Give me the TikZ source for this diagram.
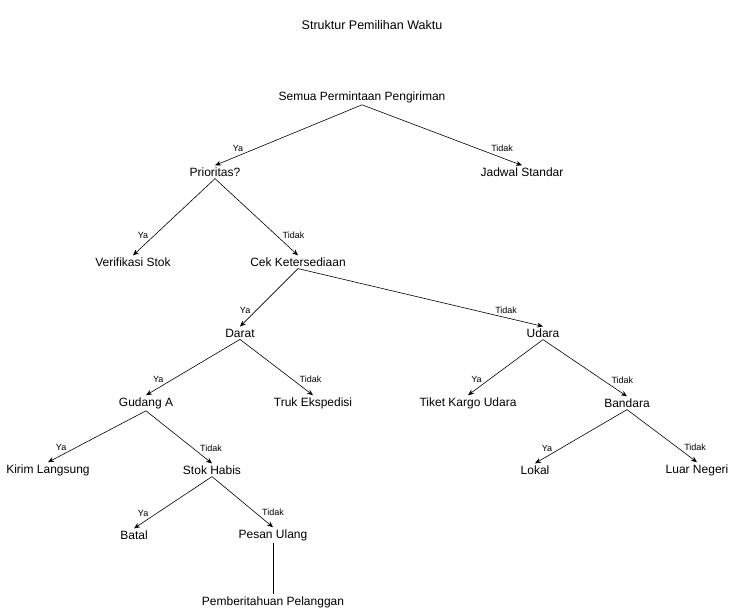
\documentclass[tikz,border=0pt]{standalone}
\usepackage{fontspec}
\setmainfont{Liberation Sans}
\usetikzlibrary{arrows.meta}
\begin{document}
\begin{tikzpicture}[x=1pt,y=-1pt,
  box/.style={font=\fontsize{12}{14}\selectfont, inner sep=2pt},
  edge/.style={-{Stealth[length=6pt,width=5pt]}, line width=0.6pt},
  yes/.style={font=\fontsize{9}{10}\selectfont, pos=0.8, anchor=south east, inner sep=1pt},
  no/.style={font=\fontsize{9}{10}\selectfont, pos=0.8, anchor=south west, inner sep=1pt}]
\useasboundingbox (0,0) rectangle (752,614);

\node[box, font=\fontsize{12.5}{14}\selectfont] (title) at (372,25) {Struktur Pemilihan Waktu};

\node[box] (root) at (362,97) {Semua Permintaan Pengiriman};
\node[box] (n1) at (215,172) {Prioritas?};
\node[box] (n2) at (522,172) {Jadwal Standar};
\node[box] (n3) at (133,262) {Verifikasi Stok};
\node[box] (n4) at (298,262) {Cek Ketersediaan};
\node[box] (n5) at (240,333) {Darat};
\node[box] (n6) at (543,333) {Udara};
\node[box] (n7) at (146,403) {Gudang A};
\node[box] (n8) at (313,403) {Truk Ekspedisi};
\node[box] (n9) at (468,403) {Tiket Kargo Udara};
\node[box] (n10) at (627,403) {Bandara};
\node[box] (n11) at (48,470) {Kirim Langsung};
\node[box] (n12) at (212,470) {Stok Habis};
\node[box] (n13) at (535,470) {Lokal};
\node[box] (n14) at (697,470) {Luar Negeri};
\node[box] (n15) at (134,535) {Batal};
\node[box] (n16) at (273,535) {Pesan Ulang};
\node[box] (n17) at (273,602) {Pemberitahuan Pelanggan};

\draw[edge] (root.south) -- (n1.north) node[yes] {Ya};
\draw[edge] (root.south) -- (n2.north) node[no] {Tidak};
\draw[edge] (n1.south) -- (n3.north) node[yes] {Ya};
\draw[edge] (n1.south) -- (n4.north) node[no] {Tidak};
\draw[edge] (n4.south) -- (n5.north) node[yes] {Ya};
\draw[edge] (n4.south) -- (n6.north) node[no] {Tidak};
\draw[edge] (n5.south) -- (n7.north) node[yes] {Ya};
\draw[edge] (n5.south) -- (n8.north) node[no] {Tidak};
\draw[edge] (n6.south) -- (n9.north) node[yes] {Ya};
\draw[edge] (n6.south) -- (n10.north) node[no] {Tidak};
\draw[edge] (n7.south) -- (n11.north) node[yes] {Ya};
\draw[edge] (n7.south) -- (n12.north) node[no] {Tidak};
\draw[edge] (n10.south) -- (n13.north) node[yes] {Ya};
\draw[edge] (n10.south) -- (n14.north) node[no] {Tidak};
\draw[edge] (n12.south) -- (n15.north) node[yes] {Ya};
\draw[edge] (n12.south) -- (n16.north) node[no] {Tidak};
\draw[line width=0.7pt] (n16.south) -- (n17.north);
\end{tikzpicture}
\end{document}
